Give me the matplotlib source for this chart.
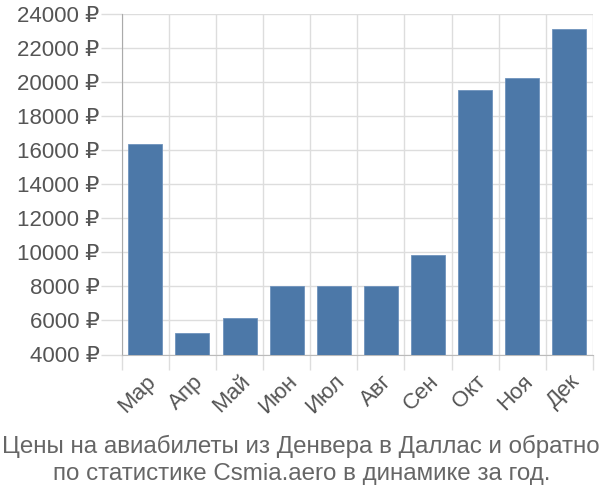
import matplotlib.pyplot as plt

plt.rcParams['font.family'] = ['Liberation Sans', 'DejaVu Sans']

months = ['Мар', 'Апр', 'Май', 'Июн', 'Июл', 'Авг', 'Сен', 'Окт', 'Ноя', 'Дек']
prices = [16350, 5250, 6150, 8020, 8020, 8020, 9870, 19510, 20250, 23120]
yticks = list(range(4000, 24001, 2000))

fig = plt.figure(figsize=(6, 5), dpi=100)
ax = fig.add_axes([0.203, 0.291, 0.785, 0.681])

xs = range(len(months))
ax.bar(xs, prices, width=0.72, color='#4c78a8', edgecolor='#6f93bd', linewidth=0.6,
       zorder=3)

ax.set_xlim(-0.5, len(months) - 0.5)
ax.set_ylim(4000, 24000)

# grid lines sit between the bars
ax.set_xticks([i - 0.5 for i in range(len(months) + 1)], minor=True)
ax.set_xticks(list(xs))
ax.set_xticklabels(months, rotation=45, ha='right', va='top', rotation_mode='anchor')
ax.set_yticks(yticks)
ax.set_yticklabels([f'{v} ₽' for v in yticks])

ax.grid(True, which='minor', axis='x', color='#dddddd', linewidth=1, zorder=0)
ax.grid(True, which='major', axis='y', color='#dddddd', linewidth=1, zorder=0)
ax.tick_params(axis='x', which='major', length=0, pad=12, labelsize=16, labelcolor='#555555')
ax.tick_params(axis='x', which='minor', length=11, color='#dddddd', width=1)
ax.tick_params(axis='y', length=15, color='#dddddd', width=1, pad=1,
               labelsize=16, labelcolor='#555555')

for s in ['top', 'right']:
    ax.spines[s].set_visible(False)
ax.spines['left'].set_color('#aaaaaa')
ax.spines['bottom'].set_color('#bbbbbb')

fig.text(0.502, 0.08, 'Цены на авиабилеты из Денвера в Даллас и обратно\nпо статистике Csmia.aero в динамике за год.',
         ha='center', va='center', fontsize=17.4, color='#666666', linespacing=1.25)

fig.savefig('out.png', dpi=100)
